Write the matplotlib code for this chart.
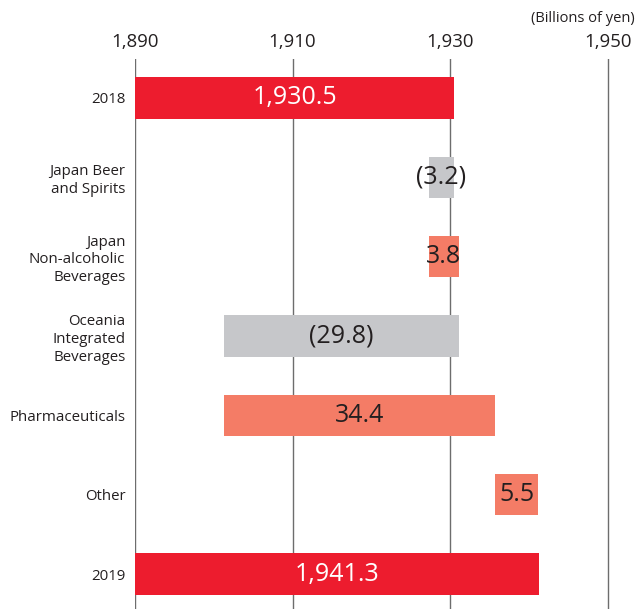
import numpy as np
import matplotlib
matplotlib.use("Agg")
import matplotlib.pyplot as plt

plt.rcParams["font.family"] = ["Open Sans", "DejaVu Sans"]

# Revenue bridge 2018 -> 2019 (billions of yen)
categories = ["2018", "Japan Beer\nand Spirits", "Japan\nNon-alcoholic\nBeverages",
              "Oceania\nIntegrated\nBeverages", "Pharmaceuticals", "Other", "2019"]
start_total = 1930.5
changes = [-3.2, 3.8, -29.8, 34.4, 5.5]
end_total = 1941.3
xticks = [1890, 1910, 1930, 1950]

RED = "#ED1C2E"
GRAY = "#C6C7CA"
SALMON = "#F47C66"
TEXT = "#231F20"

# bar spans: totals start at the axis floor, changes float on the running sum
floor = 1890
lefts, rights, colors, labels = [], [], [], []
lefts.append(floor); rights.append(start_total); colors.append(RED)
labels.append(f"{start_total:,.1f}")
running = start_total
for c in changes:
    new = running + c
    lefts.append(min(running, new)); rights.append(max(running, new))
    colors.append(SALMON if c > 0 else GRAY)
    labels.append(f"{c:.1f}" if c > 0 else f"({abs(c):.1f})")
    running = new
lefts.append(floor); rights.append(end_total); colors.append(RED)
labels.append(f"{end_total:,.1f}")

lefts = np.array(lefts); rights = np.array(rights)
y = np.arange(len(categories))

fig = plt.figure(figsize=(6.36, 6.09), dpi=100)
ax = fig.add_axes([135 / 636, 0, 501 / 636, 550 / 609])

for xv in xticks:
    ax.axvline(xv, color="#6d6d6d", linewidth=1, zorder=1)

ax.barh(y, rights - lefts, left=lefts, height=0.52, color=colors, zorder=2)

for i, lab in enumerate(labels):
    cx = (lefts[i] + rights[i]) / 2
    is_total = i in (0, len(labels) - 1)
    ax.text(cx, y[i], lab, ha="center", va="center", fontsize=18,
            color="white" if is_total else TEXT, zorder=3)

ax.set_xlim(1890, 1953.6)
ax.set_ylim(6.44, -0.49)
ax.xaxis.tick_top()
ax.set_xticks(xticks)
ax.set_xticklabels([f"{v:,}" for v in xticks], fontsize=13.4, color=TEXT)
ax.set_yticks(y)
ax.set_yticklabels(categories, fontsize=10.8, color=TEXT, linespacing=1.25)
ax.tick_params(axis="both", length=0)
ax.tick_params(axis="x", pad=6)
ax.tick_params(axis="y", pad=7)
for s in ax.spines.values():
    s.set_visible(False)

fig.text(635 / 636, 1 - 19 / 609, "(Billions of yen)", ha="right", va="center",
         fontsize=10.5, color=TEXT)

fig.savefig("out.png", dpi=100)
